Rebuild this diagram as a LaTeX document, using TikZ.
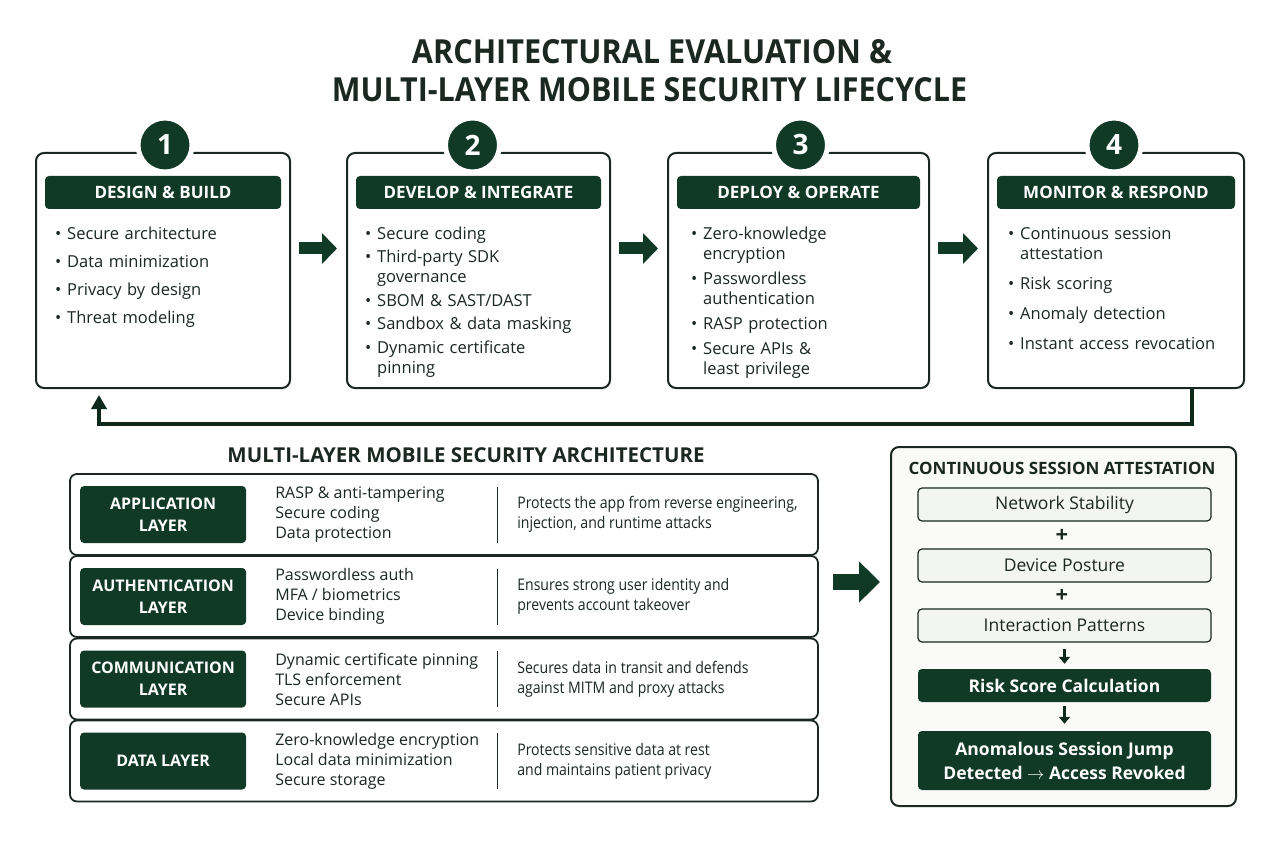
\documentclass[tikz,border=0pt]{standalone}
\usepackage{fontspec}
\setmainfont{Open Sans}
\newfontfamily\narrowfont[FakeStretch=0.88]{Open Sans}
\usepackage{graphicx}
\usetikzlibrary{positioning,calc,arrows.meta}

\definecolor{forest}{HTML}{113A26}
\definecolor{ink}{HTML}{1B2721}
\definecolor{panelbg}{HTML}{FAFBF9}
\definecolor{softbox}{HTML}{F3F5F1}

\tikzset{
	stagebox/.style={draw=ink,line width=2pt,rounded corners=8pt,fill=white,minimum height=235pt,inner sep=0pt},
	stagenum/.style={circle,fill=forest,draw=white,line width=5pt,minimum size=54pt,inner sep=0pt,text=white,font=\fontsize{28}{28}\selectfont\bfseries},
	stagehead/.style={fill=forest,rounded corners=4pt,minimum height=33pt,inner sep=0pt,text=white,font=\fontsize{17}{20}\selectfont\bfseries},
	stagelist/.style={anchor=north west,inner sep=0pt,align=left,text width=225pt,text=ink,font=\fontsize{16.5}{20}\selectfont},
	flowarrow/.style={draw=forest,line width=12pt,-{Triangle[width=30pt,length=15pt]}},
	backarrow/.style={draw=forest!70!black,line width=4pt,-{Triangle[width=15pt,length=14pt]}},
	layerrow/.style={draw=ink,line width=1.8pt,rounded corners=7pt,fill=white,minimum width=748pt,minimum height=81pt,inner sep=0pt},
	layertag/.style={fill=forest,rounded corners=4pt,minimum width=166pt,minimum height=57pt,inner sep=0pt,text=white,align=center,font=\fontsize{16}{22}\selectfont\bfseries},
	layerfeat/.style={anchor=west,align=left,inner sep=0pt,text=ink,font=\fontsize{16}{20}\selectfont},
	layerdesc/.style={anchor=west,align=left,inner sep=0pt,text=ink,font=\narrowfont\fontsize{16}{20}\selectfont},
	signal/.style={draw=ink,line width=1.2pt,rounded corners=4pt,fill=softbox,minimum width=293pt,minimum height=33pt,inner sep=0pt,text=ink,font=\fontsize{17.5}{20}\selectfont},
	verdict/.style={fill=forest,rounded corners=4pt,minimum width=293pt,minimum height=33pt,inner sep=0pt,text=white,align=center,font=\fontsize{17.5}{24}\selectfont\bfseries},
	stepdown/.style={draw=forest!70!black,line width=2.5pt,-{Triangle[width=11pt,length=7pt]}},
	bigarrow/.style={draw=forest,line width=16pt,-{Triangle[width=40pt,length=21pt]}},
}

% bullet item with hanging indent, #1 = gap after the item
\newcommand{\bul}[2][6pt]{\par\hangindent=12pt\hangafter=1\noindent\makebox[12pt][l]{\textbullet}{\let\\\newline#2}\par\vspace{#1}}

\begin{document}
\begin{tikzpicture}[x=1pt,y=-1pt]
	\fill[white] (0,0) rectangle (1280,850);
	\useasboundingbox (0,0) rectangle (1280,850);

	% title
	\node[text=ink,inner sep=0pt] (t1) at (652,52) {\resizebox{480pt}{24pt}{\bfseries ARCHITECTURAL EVALUATION \&}};
	\node[text=ink,inner sep=0pt] (t2) at (649.5,90) {\resizebox{635pt}{24pt}{\bfseries MULTI-LAYER MOBILE SECURITY LIFECYCLE}};

	% lifecycle stages
	\node[stagebox,minimum width=254pt] (s1) at (163,270.5) {};
	\node[stagebox,minimum width=263pt] (s2) at (478.5,270.5) {};
	\node[stagebox,minimum width=261pt] (s3) at (798.5,270.5) {};
	\node[stagebox,minimum width=256pt] (s4) at (1116,270.5) {};

	\node[stagenum] (n1) at ($(s1.north)+(2,-7)$) {1};
	\node[stagenum] (n2) at ($(s2.north)+(-6,-7)$) {2};
	\node[stagenum] (n3) at ($(s3.north)+(2,-7)$) {3};
	\node[stagenum] (n4) at ($(s4.north)+(-2,-7)$) {4};

	\node[stagehead,minimum width=236pt] (h1) at ($(s1.north)+(0,40.5)$) {DESIGN \& BUILD};
	\node[stagehead,minimum width=245pt] (h2) at ($(s2.north)+(0,40.5)$) {DEVELOP \& INTEGRATE};
	\node[stagehead,minimum width=243pt] (h3) at ($(s3.north)+(0,40.5)$) {DEPLOY \& OPERATE};
	\node[stagehead,minimum width=238pt] (h4) at ($(s4.north)+(0,40.5)$) {MONITOR \& RESPOND};

	\node[stagelist] (l1) at ($(s1.north west)+(20,67)$) {
		\bul[8pt]{Secure architecture}
		\bul[8pt]{Data minimization}
		\bul[8pt]{Privacy by design}
		\bul[8pt]{Threat modeling}};
	\node[stagelist] (l2) at ($(s2.north west)+(19,67)$) {
		\bul[3.5pt]{Secure coding}
		\bul[3.5pt]{Third-party SDK\\governance}
		\bul[3.5pt]{SBOM \& SAST/DAST}
		\bul[3.5pt]{Sandbox \& data masking}
		\bul[3.5pt]{Dynamic certificate\\pinning}};
	\node[stagelist] (l3) at ($(s3.north west)+(24,67)$) {
		\bul[5pt]{Zero-knowledge\\encryption}
		\bul[5pt]{Passwordless\\authentication}
		\bul[5pt]{RASP protection}
		\bul[5pt]{Secure APIs \&\\least privilege}};
	\node[stagelist] (l4) at ($(s4.north west)+(21,67)$) {
		\bul[10pt]{Continuous session\\attestation}
		\bul[10pt]{Risk scoring}
		\bul[10pt]{Anomaly detection}
		\bul[10pt]{Instant access revocation}};

	\foreach \a/\b in {s1/s2,s2/s3,s3/s4}{
		\draw[flowarrow] ($(\a.east)+(8,-22)$) -- ($(\b.west)+(-9,-22)$);
	}
	\draw[backarrow] ($(s4.south east)+(-53,0)$) -- ++(0,35) -| ($(s1.south west)+(64,6)$);

	% security layers
	\node[text=ink,font=\fontsize{20.5}{22}\selectfont\bfseries] (archtitle) at (466,455) {MULTI-LAYER MOBILE SECURITY ARCHITECTURE};

	\foreach \id/\y/\tag/\feat/\desc in {
		app/514.5/{APPLICATION\\LAYER}/{RASP \& anti-tampering\\Secure coding\\Data protection}/{Protects the app from reverse engineering,\\injection, and runtime attacks},
		auth/596.5/{AUTHENTICATION\\LAYER}/{Passwordless auth\\MFA / biometrics\\Device binding}/{Ensures strong user identity and\\prevents account takeover},
		comm/679/{COMMUNICATION\\LAYER}/{Dynamic certificate pinning\\TLS enforcement\\Secure APIs}/{Secures data in transit and defends\\against MITM and proxy attacks},
		data/761/{DATA LAYER}/{Zero-knowledge encryption\\Local data minimization\\Secure storage}/{Protects sensitive data at rest\\and maintains patient privacy}}{
		\node[layerrow] (\id) at (444,\y) {};
		\node[layertag] (\id tag) at ($(\id.west)+(94,0)$) {\tag};
		\node[layerfeat] (\id feat) at ($(\id.west)+(206,0)$) {\feat};
		\draw[ink,line width=1.2pt] ($(\id.west)+(428,-28)$) -- ($(\id.west)+(428,28)$);
		\node[layerdesc] (\id desc) at ($(\id.west)+(448,0)$) {\desc};
	}

	% session attestation panel
	\node[draw=ink,line width=2pt,rounded corners=8pt,fill=panelbg,minimum width=345pt,minimum height=359pt] (att) at (1063.5,626.5) {};
	\node[text=ink,font=\fontsize{17}{20}\selectfont\bfseries] (atttitle) at (1062,468) {CONTINUOUS SESSION ATTESTATION};
	\node[signal] (net) at (1064.5,504.5) {Network Stability};
	\node[text=ink,font=\fontsize{22}{22}\selectfont\bfseries] (plus1) at (1062,536) {+};
	\node[signal] (dev) at (1064.5,565.5) {Device Posture};
	\node[text=ink,font=\fontsize{22}{22}\selectfont\bfseries] (plus2) at (1062,596) {+};
	\node[signal] (inter) at (1064.5,625.5) {Interaction Patterns};
	\node[verdict] (risk) at (1064.5,685.5) {Risk Score Calculation};
	\node[verdict,minimum height=59pt] (anom) at (1064.5,760.5) {Anomalous Session Jump\\Detected $\rightarrow$ Access Revoked};

	\draw[stepdown,shorten <=6pt,shorten >=5pt] (inter) -- (risk);
	\draw[stepdown,shorten <=4pt,shorten >=7pt] (risk) -- (anom);

	\coordinate (ba) at ($(auth.east)+(14,-14.5)$);
	\draw[bigarrow,shorten >=10pt] (ba) -- (ba -| att.west);
\end{tikzpicture}
\end{document}
